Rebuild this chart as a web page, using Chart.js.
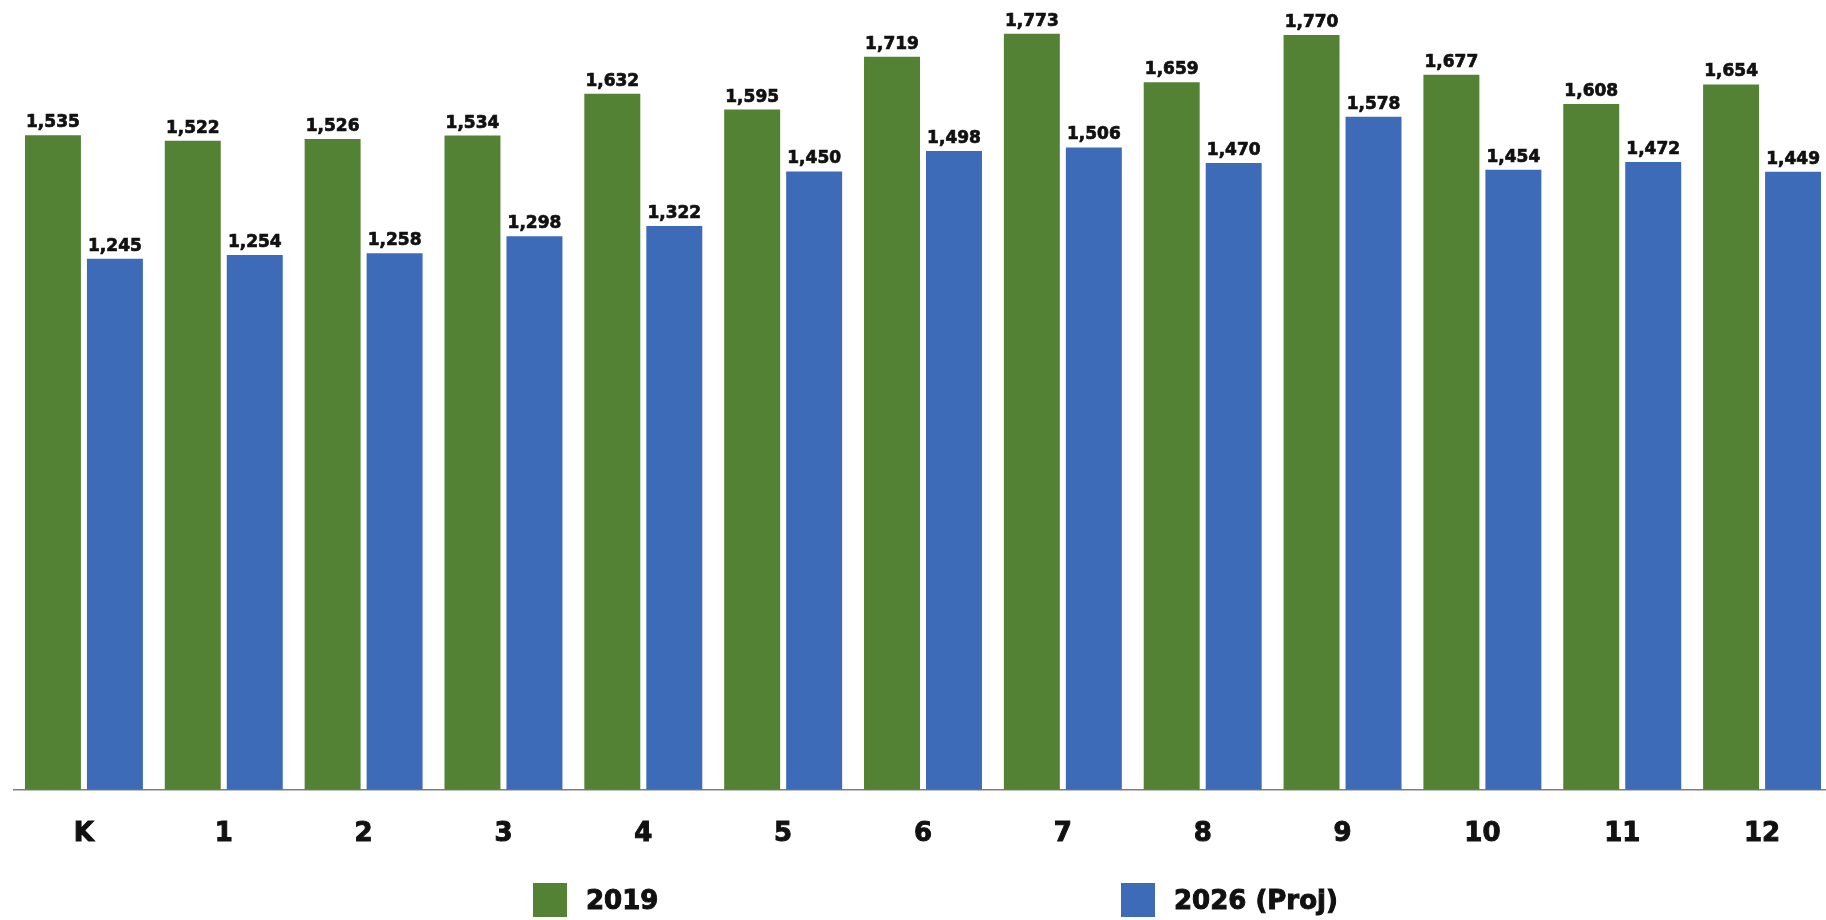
<!DOCTYPE html>
<html>
<head>
<meta charset="utf-8">
<title>Enrollment by grade</title>
<script src="https://cdn.jsdelivr.net/npm/chart.js@4.4.0/dist/chart.umd.min.js"></script>
<style>
  html, body { margin: 0; padding: 0; background: #fff; overflow: hidden; }
  #wrap { width: 1840px; height: 920px; }
</style>
</head>
<body>
<div id="wrap"><canvas id="gradeChart" width="1840" height="920"></canvas></div>
<script>
var grades = ["K","1","2","3","4","5","6","7","8","9","10","11","12"];
var enroll2019 = [1535,1522,1526,1534,1632,1595,1719,1773,1659,1770,1677,1608,1654];
var enroll2026 = [1245,1254,1258,1298,1322,1450,1498,1506,1470,1578,1454,1472,1449];
var seriesNames = ["2019","2026 (Proj)"];
var seriesColors = ["#548235","#3D6BB8"];

var FONT = "'DejaVu Sans', sans-serif";

// numbers on top of each bar
var valueLabels = {
  id: 'valueLabels',
  afterDatasetsDraw: function (chart) {
    var ctx = chart.ctx;
    ctx.save();
    ctx.font = "bold 17px " + FONT;
    ctx.fillStyle = "#111";
    ctx.strokeStyle = "#111";
    ctx.lineWidth = 0.7;
    ctx.textAlign = "center";
    ctx.textBaseline = "bottom";
    chart.data.datasets.forEach(function (ds, i) {
      chart.getDatasetMeta(i).data.forEach(function (bar, j) {
        var txt = ds.data[j].toLocaleString('en-US');
        ctx.fillText(txt, bar.x, bar.y - 4);
        ctx.strokeText(txt, bar.x, bar.y - 4);
      });
    });
    ctx.restore();
  }
};

// legend spread wide under the axis, like the original
var wideLegend = {
  id: 'wideLegend',
  afterDraw: function (chart) {
    var ctx = chart.ctx;
    var starts = [533, 1121];
    var box = 34, top = 883;
    ctx.save();
    ctx.font = "bold 26px " + FONT;
    ctx.textBaseline = "middle";
    ctx.textAlign = "left";
    ctx.lineWidth = 1;
    chart.data.datasets.forEach(function (ds, i) {
      ctx.fillStyle = ds.backgroundColor;
      ctx.fillRect(starts[i], top, box, box);
      ctx.fillStyle = "#111";
      ctx.strokeStyle = "#111";
      ctx.fillText(ds.label, starts[i] + box + 19, top + box / 2 + 2);
      ctx.strokeText(ds.label, starts[i] + box + 19, top + box / 2 + 2);
    });
    ctx.restore();
  }
};

var barData = {
  labels: grades,
  datasets: [
    { label: seriesNames[0], data: enroll2019, backgroundColor: seriesColors[0] },
    { label: seriesNames[1], data: enroll2026, backgroundColor: seriesColors[1] }
  ]
};

var barOptions = {
  responsive: false,
  animation: false,
  layout: { padding: { left: 14, right: 8, top: 0, bottom: 41 } },
  datasets: { bar: { categoryPercentage: 0.8865, barPercentage: 0.903 } },
  plugins: { legend: { display: false }, tooltip: { enabled: false } },
  scales: {
    x: {
      grid: { display: false, drawTicks: false },
      border: { display: true, color: "#7f7f7f", width: 1.5 },
      ticks: {
        color: "#111", font: { family: FONT, size: 26, weight: "bold" },
        textStrokeColor: "#111", textStrokeWidth: 1,
        padding: 29, maxRotation: 0
      }
    },
    y: {
      display: false,
      min: 0,
      max: 1852
    }
  }
};

var gradeChart = new Chart(document.getElementById('gradeChart').getContext('2d'), {
  type: 'bar',
  data: barData,
  options: barOptions,
  plugins: [valueLabels, wideLegend]
});
</script>
</body>
</html>
